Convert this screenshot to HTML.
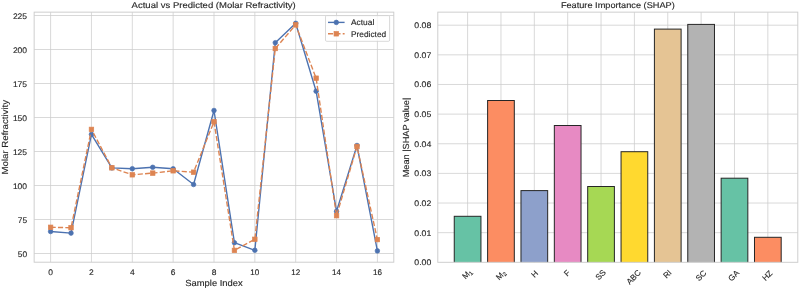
<!DOCTYPE html><html><head><meta charset="utf-8"><style>html,body{margin:0;padding:0;background:#fff;width:799px;height:289px;overflow:hidden}svg{display:block;will-change:transform}text{font-family:"Liberation Sans",sans-serif;fill:#262626;text-rendering:geometricPrecision;stroke:#262626;stroke-width:0.13px}</style></head><body>
<svg width="799" height="289" viewBox="0 0 799 289">
<rect x="0" y="0" width="799" height="289" fill="#fff"/>
<g stroke="#cccccc" stroke-width="0.75" fill="none">
<line x1="50.60" y1="12.15" x2="50.60" y2="262.2"/>
<line x1="91.45" y1="12.15" x2="91.45" y2="262.2"/>
<line x1="132.30" y1="12.15" x2="132.30" y2="262.2"/>
<line x1="173.15" y1="12.15" x2="173.15" y2="262.2"/>
<line x1="214.00" y1="12.15" x2="214.00" y2="262.2"/>
<line x1="254.85" y1="12.15" x2="254.85" y2="262.2"/>
<line x1="295.70" y1="12.15" x2="295.70" y2="262.2"/>
<line x1="336.55" y1="12.15" x2="336.55" y2="262.2"/>
<line x1="377.40" y1="12.15" x2="377.40" y2="262.2"/>
<line x1="34.15" y1="253.50" x2="393.8" y2="253.50"/>
<line x1="34.15" y1="219.50" x2="393.8" y2="219.50"/>
<line x1="34.15" y1="185.50" x2="393.8" y2="185.50"/>
<line x1="34.15" y1="151.50" x2="393.8" y2="151.50"/>
<line x1="34.15" y1="117.50" x2="393.8" y2="117.50"/>
<line x1="34.15" y1="83.50" x2="393.8" y2="83.50"/>
<line x1="34.15" y1="49.50" x2="393.8" y2="49.50"/>
<line x1="34.15" y1="15.50" x2="393.8" y2="15.50"/>
</g>
<rect x="34.15" y="12.15" width="359.65" height="250.05" fill="none" stroke="#cccccc" stroke-width="0.95"/>
<polyline points="50.60,231.50 71.03,233.10 91.45,134.40 111.88,167.90 132.30,168.70 152.72,167.30 173.15,168.80 193.57,184.50 214.00,110.50 234.43,242.70 254.85,250.30 275.28,42.70 295.70,23.30 316.13,91.20 336.55,211.30 356.98,145.50 377.40,250.90" fill="none" stroke="#4c72b0" stroke-width="1.38" stroke-linejoin="round" stroke-linecap="butt"/>
<circle cx="50.60" cy="231.50" r="2.3" fill="#4c72b0" stroke="#4c72b0" stroke-width="0.69"/>
<circle cx="71.03" cy="233.10" r="2.3" fill="#4c72b0" stroke="#4c72b0" stroke-width="0.69"/>
<circle cx="91.45" cy="134.40" r="2.3" fill="#4c72b0" stroke="#4c72b0" stroke-width="0.69"/>
<circle cx="111.88" cy="167.90" r="2.3" fill="#4c72b0" stroke="#4c72b0" stroke-width="0.69"/>
<circle cx="132.30" cy="168.70" r="2.3" fill="#4c72b0" stroke="#4c72b0" stroke-width="0.69"/>
<circle cx="152.72" cy="167.30" r="2.3" fill="#4c72b0" stroke="#4c72b0" stroke-width="0.69"/>
<circle cx="173.15" cy="168.80" r="2.3" fill="#4c72b0" stroke="#4c72b0" stroke-width="0.69"/>
<circle cx="193.57" cy="184.50" r="2.3" fill="#4c72b0" stroke="#4c72b0" stroke-width="0.69"/>
<circle cx="214.00" cy="110.50" r="2.3" fill="#4c72b0" stroke="#4c72b0" stroke-width="0.69"/>
<circle cx="234.43" cy="242.70" r="2.3" fill="#4c72b0" stroke="#4c72b0" stroke-width="0.69"/>
<circle cx="254.85" cy="250.30" r="2.3" fill="#4c72b0" stroke="#4c72b0" stroke-width="0.69"/>
<circle cx="275.28" cy="42.70" r="2.3" fill="#4c72b0" stroke="#4c72b0" stroke-width="0.69"/>
<circle cx="295.70" cy="23.30" r="2.3" fill="#4c72b0" stroke="#4c72b0" stroke-width="0.69"/>
<circle cx="316.13" cy="91.20" r="2.3" fill="#4c72b0" stroke="#4c72b0" stroke-width="0.69"/>
<circle cx="336.55" cy="211.30" r="2.3" fill="#4c72b0" stroke="#4c72b0" stroke-width="0.69"/>
<circle cx="356.98" cy="145.50" r="2.3" fill="#4c72b0" stroke="#4c72b0" stroke-width="0.69"/>
<circle cx="377.40" cy="250.90" r="2.3" fill="#4c72b0" stroke="#4c72b0" stroke-width="0.69"/>
<polyline points="50.60,227.30 71.03,227.70 91.45,129.40 111.88,167.80 132.30,174.80 152.72,173.10 173.15,170.80 193.57,172.20 214.00,121.70 234.43,250.40 254.85,239.30 275.28,48.50 295.70,24.90 316.13,78.20 336.55,215.70 356.98,146.50 377.40,239.60" fill="none" stroke="#dd8452" stroke-width="1.38" stroke-dasharray="5.14 2.22" stroke-linejoin="round"/>
<rect x="48.35" y="225.05" width="4.5" height="4.5" fill="#dd8452" stroke="#dd8452" stroke-width="0.69"/>
<rect x="68.78" y="225.45" width="4.5" height="4.5" fill="#dd8452" stroke="#dd8452" stroke-width="0.69"/>
<rect x="89.20" y="127.15" width="4.5" height="4.5" fill="#dd8452" stroke="#dd8452" stroke-width="0.69"/>
<rect x="109.62" y="165.55" width="4.5" height="4.5" fill="#dd8452" stroke="#dd8452" stroke-width="0.69"/>
<rect x="130.05" y="172.55" width="4.5" height="4.5" fill="#dd8452" stroke="#dd8452" stroke-width="0.69"/>
<rect x="150.47" y="170.85" width="4.5" height="4.5" fill="#dd8452" stroke="#dd8452" stroke-width="0.69"/>
<rect x="170.90" y="168.55" width="4.5" height="4.5" fill="#dd8452" stroke="#dd8452" stroke-width="0.69"/>
<rect x="191.32" y="169.95" width="4.5" height="4.5" fill="#dd8452" stroke="#dd8452" stroke-width="0.69"/>
<rect x="211.75" y="119.45" width="4.5" height="4.5" fill="#dd8452" stroke="#dd8452" stroke-width="0.69"/>
<rect x="232.18" y="248.15" width="4.5" height="4.5" fill="#dd8452" stroke="#dd8452" stroke-width="0.69"/>
<rect x="252.60" y="237.05" width="4.5" height="4.5" fill="#dd8452" stroke="#dd8452" stroke-width="0.69"/>
<rect x="273.03" y="46.25" width="4.5" height="4.5" fill="#dd8452" stroke="#dd8452" stroke-width="0.69"/>
<rect x="293.45" y="22.65" width="4.5" height="4.5" fill="#dd8452" stroke="#dd8452" stroke-width="0.69"/>
<rect x="313.88" y="75.95" width="4.5" height="4.5" fill="#dd8452" stroke="#dd8452" stroke-width="0.69"/>
<rect x="334.30" y="213.45" width="4.5" height="4.5" fill="#dd8452" stroke="#dd8452" stroke-width="0.69"/>
<rect x="354.73" y="144.25" width="4.5" height="4.5" fill="#dd8452" stroke="#dd8452" stroke-width="0.69"/>
<rect x="375.15" y="237.35" width="4.5" height="4.5" fill="#dd8452" stroke="#dd8452" stroke-width="0.69"/>
<rect x="325.5" y="15.6" width="64.1" height="25.7" rx="1.2" ry="1.2" fill="#fff" fill-opacity="0.8" stroke="#cccccc" stroke-width="0.75"/>
<line x1="328.0" y1="22.4" x2="344.6" y2="22.4" stroke="#4c72b0" stroke-width="1.38"/>
<circle cx="336.3" cy="22.4" r="2.3" fill="#4c72b0" stroke="#4c72b0" stroke-width="0.69"/>
<line x1="328.0" y1="33.8" x2="344.6" y2="33.8" stroke="#dd8452" stroke-width="1.38" stroke-dasharray="5.14 2.22"/>
<rect x="334.05" y="31.55" width="4.5" height="4.5" fill="#dd8452" stroke="#dd8452" stroke-width="0.69"/>
<text x="351.0" y="24.9" font-size="8.1" textLength="23.3" lengthAdjust="spacingAndGlyphs">Actual</text>
<text x="351.0" y="36.5" font-size="8.1" textLength="35.2" lengthAdjust="spacingAndGlyphs">Predicted</text>
<text x="27.1" y="256.90" font-size="8.1" text-anchor="end" textLength="9.3" lengthAdjust="spacingAndGlyphs">50</text>
<text x="27.1" y="222.90" font-size="8.1" text-anchor="end" textLength="9.3" lengthAdjust="spacingAndGlyphs">75</text>
<text x="27.1" y="188.90" font-size="8.1" text-anchor="end" textLength="14.2" lengthAdjust="spacingAndGlyphs">100</text>
<text x="27.1" y="154.90" font-size="8.1" text-anchor="end" textLength="14.2" lengthAdjust="spacingAndGlyphs">125</text>
<text x="27.1" y="120.90" font-size="8.1" text-anchor="end" textLength="14.2" lengthAdjust="spacingAndGlyphs">150</text>
<text x="27.1" y="86.90" font-size="8.1" text-anchor="end" textLength="14.2" lengthAdjust="spacingAndGlyphs">175</text>
<text x="27.1" y="52.90" font-size="8.1" text-anchor="end" textLength="14.2" lengthAdjust="spacingAndGlyphs">200</text>
<text x="27.1" y="18.90" font-size="8.1" text-anchor="end" textLength="14.2" lengthAdjust="spacingAndGlyphs">225</text>
<text x="50.60" y="274.9" font-size="8.1" text-anchor="middle" textLength="4.7" lengthAdjust="spacingAndGlyphs">0</text>
<text x="91.45" y="274.9" font-size="8.1" text-anchor="middle" textLength="4.7" lengthAdjust="spacingAndGlyphs">2</text>
<text x="132.30" y="274.9" font-size="8.1" text-anchor="middle" textLength="4.7" lengthAdjust="spacingAndGlyphs">4</text>
<text x="173.15" y="274.9" font-size="8.1" text-anchor="middle" textLength="4.7" lengthAdjust="spacingAndGlyphs">6</text>
<text x="214.00" y="274.9" font-size="8.1" text-anchor="middle" textLength="4.7" lengthAdjust="spacingAndGlyphs">8</text>
<text x="254.85" y="274.9" font-size="8.1" text-anchor="middle" textLength="9.0" lengthAdjust="spacingAndGlyphs">10</text>
<text x="295.70" y="274.9" font-size="8.1" text-anchor="middle" textLength="9.0" lengthAdjust="spacingAndGlyphs">12</text>
<text x="336.55" y="274.9" font-size="8.1" text-anchor="middle" textLength="9.0" lengthAdjust="spacingAndGlyphs">14</text>
<text x="377.40" y="274.9" font-size="8.1" text-anchor="middle" textLength="9.0" lengthAdjust="spacingAndGlyphs">16</text>
<text x="213.7" y="7.75" font-size="8.4" text-anchor="middle" textLength="164.2" lengthAdjust="spacingAndGlyphs">Actual vs Predicted (Molar Refractivity)</text>
<text x="214.0" y="286.0" font-size="8.8" text-anchor="middle" textLength="57.5" lengthAdjust="spacingAndGlyphs">Sample Index</text>
<text transform="translate(8.0 137.2) rotate(-90)" x="0" y="0" font-size="8.8" text-anchor="middle" textLength="74.6" lengthAdjust="spacingAndGlyphs">Molar Refractivity</text>
<g stroke="#cccccc" stroke-width="0.75" fill="none">
<line x1="467.60" y1="12.15" x2="467.60" y2="262.3"/>
<line x1="500.96" y1="12.15" x2="500.96" y2="262.3"/>
<line x1="534.32" y1="12.15" x2="534.32" y2="262.3"/>
<line x1="567.68" y1="12.15" x2="567.68" y2="262.3"/>
<line x1="601.04" y1="12.15" x2="601.04" y2="262.3"/>
<line x1="634.40" y1="12.15" x2="634.40" y2="262.3"/>
<line x1="667.76" y1="12.15" x2="667.76" y2="262.3"/>
<line x1="701.12" y1="12.15" x2="701.12" y2="262.3"/>
<line x1="734.48" y1="12.15" x2="734.48" y2="262.3"/>
<line x1="767.84" y1="12.15" x2="767.84" y2="262.3"/>
<line x1="437.8" y1="232.66" x2="797.8" y2="232.66"/>
<line x1="437.8" y1="203.03" x2="797.8" y2="203.03"/>
<line x1="437.8" y1="173.39" x2="797.8" y2="173.39"/>
<line x1="437.8" y1="143.75" x2="797.8" y2="143.75"/>
<line x1="437.8" y1="114.11" x2="797.8" y2="114.11"/>
<line x1="437.8" y1="84.48" x2="797.8" y2="84.48"/>
<line x1="437.8" y1="54.84" x2="797.8" y2="54.84"/>
<line x1="437.8" y1="25.20" x2="797.8" y2="25.20"/>
</g>
<clipPath id="rc"><rect x="437.8" y="12.15" width="360.00" height="250.15"/></clipPath>
<g clip-path="url(#rc)">
<rect x="454.25" y="216.30" width="26.7" height="48.00" fill="#66c2a5" stroke="#262626" stroke-width="1.0"/>
<rect x="487.61" y="100.50" width="26.7" height="163.80" fill="#fc8d62" stroke="#262626" stroke-width="1.0"/>
<rect x="520.97" y="190.60" width="26.7" height="73.70" fill="#8da0cb" stroke="#262626" stroke-width="1.0"/>
<rect x="554.33" y="125.50" width="26.7" height="138.80" fill="#e78ac3" stroke="#262626" stroke-width="1.0"/>
<rect x="587.69" y="186.50" width="26.7" height="77.80" fill="#a6d854" stroke="#262626" stroke-width="1.0"/>
<rect x="621.05" y="151.70" width="26.7" height="112.60" fill="#ffd92f" stroke="#262626" stroke-width="1.0"/>
<rect x="654.41" y="29.10" width="26.7" height="235.20" fill="#e5c494" stroke="#262626" stroke-width="1.0"/>
<rect x="687.77" y="24.40" width="26.7" height="239.90" fill="#b3b3b3" stroke="#262626" stroke-width="1.0"/>
<rect x="721.13" y="178.20" width="26.7" height="86.10" fill="#66c2a5" stroke="#262626" stroke-width="1.0"/>
<rect x="754.49" y="237.30" width="26.7" height="27.00" fill="#fc8d62" stroke="#262626" stroke-width="1.0"/>
</g>
<rect x="437.8" y="12.15" width="360.00" height="250.15" fill="none" stroke="#cccccc" stroke-width="0.95"/>
<text x="431.3" y="265.20" font-size="8.1" text-anchor="end" textLength="17.0" lengthAdjust="spacingAndGlyphs">0.00</text>
<text x="431.3" y="235.56" font-size="8.1" text-anchor="end" textLength="17.0" lengthAdjust="spacingAndGlyphs">0.01</text>
<text x="431.3" y="205.93" font-size="8.1" text-anchor="end" textLength="17.0" lengthAdjust="spacingAndGlyphs">0.02</text>
<text x="431.3" y="176.29" font-size="8.1" text-anchor="end" textLength="17.0" lengthAdjust="spacingAndGlyphs">0.03</text>
<text x="431.3" y="146.65" font-size="8.1" text-anchor="end" textLength="17.0" lengthAdjust="spacingAndGlyphs">0.04</text>
<text x="431.3" y="117.01" font-size="8.1" text-anchor="end" textLength="17.0" lengthAdjust="spacingAndGlyphs">0.05</text>
<text x="431.3" y="87.38" font-size="8.1" text-anchor="end" textLength="17.0" lengthAdjust="spacingAndGlyphs">0.06</text>
<text x="431.3" y="57.74" font-size="8.1" text-anchor="end" textLength="17.0" lengthAdjust="spacingAndGlyphs">0.07</text>
<text x="431.3" y="28.10" font-size="8.1" text-anchor="end" textLength="17.0" lengthAdjust="spacingAndGlyphs">0.08</text>
<text x="617.8" y="7.5" font-size="8.4" text-anchor="middle" textLength="113.8" lengthAdjust="spacingAndGlyphs">Feature Importance (SHAP)</text>
<text transform="translate(408.9 137.5) rotate(-90)" x="0" y="0" font-size="8.8" text-anchor="middle" textLength="79.6" lengthAdjust="spacingAndGlyphs">Mean |SHAP value|</text>
<text transform="translate(467.04 274.08) rotate(-45)" x="0" y="2.8" font-size="8.1" text-anchor="middle">M<tspan font-size="5.8" dy="1.4">1</tspan></text>
<text transform="translate(500.72 274.88) rotate(-45)" x="0" y="2.8" font-size="8.1" text-anchor="middle">M<tspan font-size="5.8" dy="1.4">2</tspan></text>
<text transform="translate(534.48 273.92) rotate(-45)" x="0" y="2.8" font-size="8.1" text-anchor="middle">H</text>
<text transform="translate(567.12 273.12) rotate(-45)" x="0" y="2.8" font-size="8.1" text-anchor="middle">F</text>
<text transform="translate(600.64 274.72) rotate(-45)" x="0" y="2.8" font-size="8.1" text-anchor="middle">SS</text>
<text transform="translate(633.60 277.12) rotate(-45)" x="0" y="2.8" font-size="8.1" text-anchor="middle">ABC</text>
<text transform="translate(667.28 273.92) rotate(-45)" x="0" y="2.8" font-size="8.1" text-anchor="middle">RI</text>
<text transform="translate(700.88 275.52) rotate(-45)" x="0" y="2.8" font-size="8.1" text-anchor="middle">SC</text>
<text transform="translate(733.68 275.68) rotate(-45)" x="0" y="2.8" font-size="8.1" text-anchor="middle">GA</text>
<text transform="translate(767.20 275.52) rotate(-45)" x="0" y="2.8" font-size="8.1" text-anchor="middle">HZ</text>
</svg></body></html>
